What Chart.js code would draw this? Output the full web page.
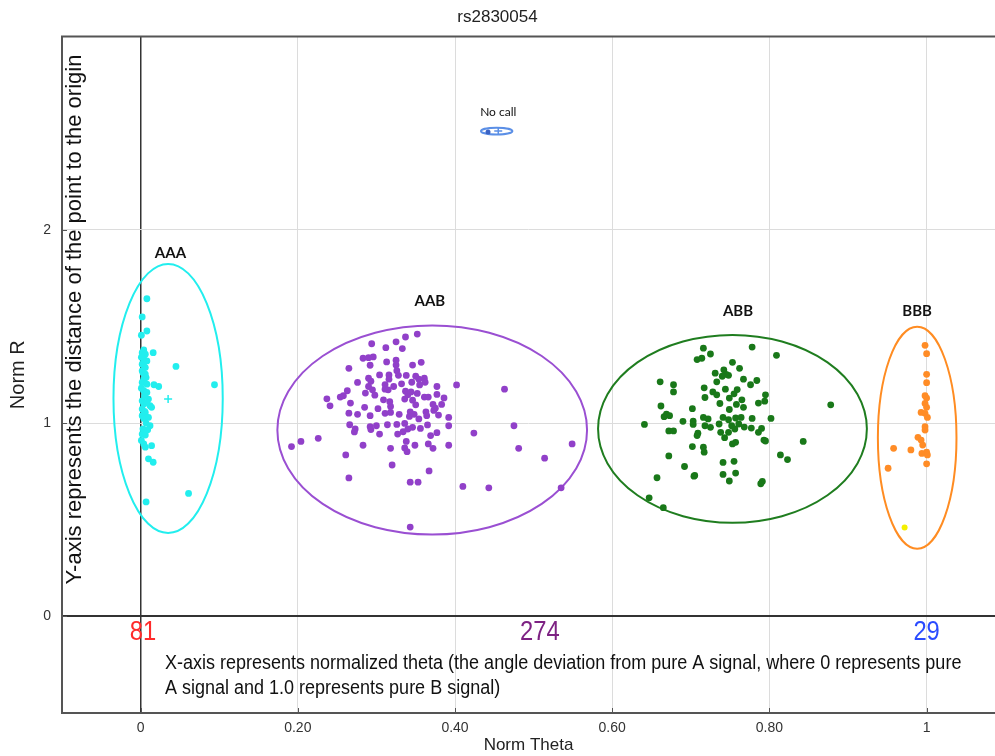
<!DOCTYPE html>
<html>
<head>
<meta charset="utf-8">
<title>rs2830054</title>
<script src="https://cdn.jsdelivr.net/npm/chart.js@4.4.1/dist/chart.umd.min.js"></script>
<style>
  body { margin: 0; background: #fff; }
  #wrap { width: 995px; height: 756px; position: relative; }
</style>
</head>
<body>
<div id="wrap"><canvas id="clusterChart"></canvas></div>
<script>
// Axis ticks
const xTickValues = [0, 0.2, 0.4, 0.6, 0.8, 1];
const xTickLabels = ['0', '0.20', '0.40', '0.60', '0.80', '1'];
const yTickValues = [0, 1, 2];
const yTickLabels = ['0', '1', '2'];

// AAA cluster (cyan)
const aaaTheta = [0.008, 0.002, 0.008, 0.001, 0.004, 0.002, 0.006, 0.016, 0.004, 0.008, 0.002, 0.006, 0.045, 0.002,
  0.006, 0.004, 0.002, 0.008, 0.017, 0.023, 0.094, 0.004, 0.008, 0.002, 0.010, 0.004, 0.012, 0.002, 0.014, 0.006,
  0.002, 0.004, 0.010, 0.012, 0.002, 0.006, 0.004, 0.014, 0.006, 0.010, 0.016, 0.061, 0.007,
  0.001, 0.004, 0.003, 0.007, 0.001, 0.005, 0.008, 0.005, 0.007, 0.003, 0.009, 0.001];
const aaaR = [1.643, 1.549, 1.476, 1.454, 1.378, 1.364, 1.356, 1.364, 1.330, 1.321, 1.304, 1.287, 1.293, 1.270,
  1.253, 1.227, 1.210, 1.201, 1.198, 1.189, 1.198, 1.167, 1.158, 1.115, 1.124, 1.098, 1.090, 1.072, 1.081, 1.055,
  1.038, 1.024, 1.029, 0.986, 0.943, 0.938, 0.892, 0.883, 0.875, 0.815, 0.797, 0.636, 0.592,
  1.340, 1.310, 1.260, 1.235, 1.180, 1.140, 1.105, 1.060, 1.000, 0.970, 0.965, 0.910];

// AAB cluster (purple)
const aabTheta = [0.352, 0.337, 0.325, 0.294, 0.312, 0.333, 0.283, 0.290, 0.296, 0.313, 0.325, 0.292, 0.325, 0.346,
  0.357, 0.265, 0.326, 0.304, 0.316, 0.328, 0.338, 0.350, 0.290, 0.293, 0.316, 0.354, 0.361, 0.362, 0.276, 0.311,
  0.322, 0.332, 0.345, 0.355, 0.377, 0.402, 0.463, 0.290, 0.295, 0.263, 0.286, 0.298, 0.311, 0.315, 0.337, 0.340,
  0.344, 0.352, 0.361, 0.366, 0.377, 0.386, 0.237, 0.254, 0.258, 0.241, 0.267, 0.309, 0.317, 0.336, 0.346, 0.350,
  0.372, 0.383, 0.375, 0.285, 0.302, 0.318, 0.329, 0.343, 0.348, 0.363, 0.364, 0.373, 0.379, 0.265, 0.276, 0.292,
  0.311, 0.318, 0.342, 0.354, 0.392, 0.266, 0.292, 0.300, 0.314, 0.326, 0.336, 0.346, 0.356, 0.365, 0.392, 0.475,
  0.273, 0.272, 0.293, 0.304, 0.327, 0.334, 0.340, 0.369, 0.377, 0.424, 0.192, 0.204, 0.226, 0.283, 0.318, 0.338,
  0.336, 0.339, 0.349, 0.366, 0.372, 0.392, 0.481, 0.549, 0.261, 0.514, 0.320, 0.367, 0.265, 0.343, 0.353, 0.410,
  0.443, 0.535, 0.343];
const aabR = [1.460, 1.445, 1.420, 1.410, 1.390, 1.385, 1.335, 1.338, 1.342, 1.316, 1.325, 1.299, 1.300, 1.300,
  1.314, 1.283, 1.271, 1.249, 1.249, 1.247, 1.246, 1.242, 1.232, 1.216, 1.227, 1.227, 1.232, 1.211, 1.210, 1.199,
  1.189, 1.203, 1.211, 1.197, 1.189, 1.197, 1.175, 1.189, 1.172, 1.167, 1.155, 1.144, 1.175, 1.172, 1.165, 1.146,
  1.161, 1.153, 1.134, 1.134, 1.148, 1.130, 1.125, 1.134, 1.141, 1.089, 1.103, 1.120, 1.110, 1.124, 1.118, 1.094,
  1.096, 1.096, 1.077, 1.081, 1.074, 1.086, 1.045, 1.058, 1.045, 1.058, 1.038, 1.065, 1.041, 1.051, 1.045, 1.038,
  1.050, 1.055, 1.034, 1.021, 1.029, 0.991, 0.981, 0.986, 0.991, 0.993, 0.998, 0.978, 0.972, 0.990, 0.986, 0.986,
  0.969, 0.954, 0.966, 0.943, 0.943, 0.955, 0.969, 0.935, 0.950, 0.948, 0.878, 0.905, 0.921, 0.885, 0.869, 0.905,
  0.871, 0.852, 0.885, 0.892, 0.869, 0.885, 0.869, 0.892, 0.835, 0.818, 0.783, 0.752, 0.716, 0.694, 0.694, 0.672,
  0.665, 0.665, 0.462];

// ABB cluster (green)
const abbTheta = [0.716, 0.778, 0.725, 0.708, 0.714, 0.809, 0.753, 0.762, 0.731, 0.742, 0.745, 0.740, 0.748, 0.661,
  0.678, 0.733, 0.767, 0.784, 0.776, 0.678, 0.717, 0.744, 0.728, 0.733, 0.759, 0.755, 0.749, 0.795, 0.794, 0.718,
  0.662, 0.702, 0.737, 0.765, 0.767, 0.758, 0.749, 0.786, 0.669, 0.673, 0.666, 0.716, 0.741, 0.722, 0.757, 0.764,
  0.778, 0.802, 0.878, 0.641, 0.690, 0.703, 0.703, 0.718, 0.725, 0.736, 0.748, 0.752, 0.761, 0.768, 0.777, 0.790,
  0.672, 0.678, 0.709, 0.708, 0.738, 0.748, 0.756, 0.786, 0.793, 0.795, 0.843, 0.743, 0.753, 0.757, 0.702, 0.716,
  0.717, 0.672, 0.814, 0.823, 0.741, 0.755, 0.692, 0.705, 0.704, 0.741, 0.757, 0.657, 0.749, 0.791, 0.789, 0.647,
  0.665];
const abbR = [1.387, 1.393, 1.357, 1.328, 1.335, 1.350, 1.314, 1.283, 1.258, 1.275, 1.252, 1.242, 1.247, 1.213,
  1.198, 1.213, 1.227, 1.220, 1.198, 1.161, 1.182, 1.175, 1.161, 1.146, 1.173, 1.151, 1.129, 1.146, 1.113, 1.132,
  1.088, 1.074, 1.101, 1.120, 1.081, 1.096, 1.070, 1.103, 1.046, 1.038, 1.033, 1.029, 1.029, 1.021, 1.026, 1.029,
  1.024, 1.024, 1.094, 0.993, 1.009, 1.010, 0.993, 0.986, 0.978, 0.995, 1.017, 0.986, 0.995, 0.979, 0.974, 0.972,
  0.959, 0.959, 0.947, 0.935, 0.952, 0.952, 0.969, 0.952, 0.912, 0.907, 0.905, 0.924, 0.892, 0.900, 0.878, 0.875,
  0.849, 0.830, 0.835, 0.811, 0.796, 0.802, 0.775, 0.729, 0.725, 0.734, 0.741, 0.717, 0.700, 0.698, 0.686, 0.613,
  0.562];

// BBB cluster (orange)
const bbbTheta = [0.998, 1.000, 1.000, 1.000, 0.998, 1.000, 0.998, 1.000, 0.993, 0.998, 1.001, 0.998, 0.998, 0.989,
  0.993, 0.995, 0.958, 0.980, 0.994, 1.000, 1.001, 1.000, 0.951];
const bbbR = [1.402, 1.359, 1.252, 1.209, 1.141, 1.129, 1.101, 1.081, 1.055, 1.050, 1.029, 0.981, 0.964, 0.926,
  0.912, 0.886, 0.869, 0.861, 0.843, 0.849, 0.835, 0.789, 0.766];

// Unassigned / no-call samples
const yellowTheta = [0.972];
const yellowR = [0.460];
const noCallTheta = [0.442];
const noCallR = [2.505];
const centroidTheta = [0.035, 0.455];
const centroidR = [1.124, 2.510];

// Cluster ellipses (centre and radii in data units)
const ellipseTheta = [0.035, 0.371, 0.753, 0.988, 0.453];
const ellipseR = [1.127, 0.964, 0.970, 0.924, 2.510];
const ellipseThetaRadius = [0.0695, 0.197, 0.171, 0.050, 0.020];
const ellipseRRadius = [0.696, 0.541, 0.486, 0.574, 0.018];
const ellipseColors = ['#22eeee', '#9a4fd2', '#1f7d1f', '#ff8c22', '#5b8fe6'];

// Cluster names and counts
const clusterNames = ['AAA', 'AAB', 'ABB', 'BBB', 'No call'];
const clusterNameTheta = [0.038, 0.368, 0.760, 0.988, 0.455];
const clusterNameR = [1.88, 1.63, 1.58, 1.58, 2.61];
const countLabels = ['81', '274', '29'];
const countTheta = [0.003, 0.508, 1.0];
const countColors = ['#ff2a2a', '#7d2283', '#2a4bff'];

function toPoints(xs, ys) {
    return xs.map((v, i) => ({ x: v, y: ys[i] }));
}

const sans = "'Liberation Sans', Arial, sans-serif";

// draw text squeezed horizontally, close to the condensed face of the original
function narrowText(ctx, text, px, py, squeeze) {
    ctx.save();
    ctx.translate(px, py);
    ctx.scale(squeeze, 1);
    ctx.fillText(text, 0, 0);
    ctx.restore();
}

// Ellipses, frame and annotation text
const overlayPlugin = {
    id: 'overlay',
    beforeDatasetsDraw(chart) {
        const { ctx, scales: { x, y } } = chart;
        ctx.save();
        ellipseTheta.forEach((t, i) => {
            const cx = x.getPixelForValue(t);
            const cy = y.getPixelForValue(ellipseR[i]);
            const rx = Math.abs(x.getPixelForValue(t + ellipseThetaRadius[i]) - cx);
            const ry = Math.abs(y.getPixelForValue(ellipseR[i] + ellipseRRadius[i]) - cy);
            ctx.beginPath();
            ctx.ellipse(cx, cy, rx, ry, 0, 0, Math.PI * 2);
            ctx.strokeStyle = ellipseColors[i];
            ctx.lineWidth = 2;
            ctx.stroke();
        });
        ctx.restore();
    },
    afterDraw(chart) {
        const { ctx, chartArea: a, scales: { x, y } } = chart;
        ctx.save();

        // frame (open on the right, the plot runs off the page) and inner tick marks
        ctx.strokeStyle = '#555';
        ctx.lineWidth = 2;
        ctx.beginPath();
        ctx.moveTo(a.right, a.top);
        ctx.lineTo(a.left, a.top);
        ctx.lineTo(a.left, a.bottom);
        ctx.lineTo(a.right, a.bottom);
        ctx.stroke();
        ctx.lineWidth = 1;
        xTickValues.forEach(v => {
            const px = Math.round(x.getPixelForValue(v)) + 0.5;
            ctx.beginPath();
            ctx.moveTo(px, a.bottom);
            ctx.lineTo(px, a.bottom - 5);
            ctx.stroke();
        });
        yTickValues.forEach(v => {
            const py = Math.round(y.getPixelForValue(v)) + 0.5;
            ctx.beginPath();
            ctx.moveTo(a.left, py);
            ctx.lineTo(a.left + 5, py);
            ctx.stroke();
        });

        // cluster names
        ctx.textAlign = 'center';
        ctx.textBaseline = 'middle';
        ctx.fillStyle = '#111';
        clusterNames.forEach((name, i) => {
            ctx.font = i < 4 ? "bold 15px Lato, 'Open Sans', sans-serif" : "12px Lato, 'Open Sans', sans-serif";
            ctx.fillText(name, x.getPixelForValue(clusterNameTheta[i]), y.getPixelForValue(clusterNameR[i]));
        });

        // genotype counts
        ctx.font = '28px ' + sans;
        countLabels.forEach((c, i) => {
            ctx.fillStyle = countColors[i];
            narrowText(ctx, c, x.getPixelForValue(countTheta[i]), y.getPixelForValue(-0.085), 0.85);
        });

        // axis notes
        ctx.fillStyle = '#111';
        ctx.textAlign = 'left';
        ctx.font = '20px ' + sans;
        narrowText(ctx, 'X-axis represents normalized theta (the angle deviation from pure A signal, where 0 represents pure',
            x.getPixelForValue(0.031), y.getPixelForValue(-0.242), 0.9);
        narrowText(ctx, 'A signal and 1.0 represents pure B signal)',
            x.getPixelForValue(0.031), y.getPixelForValue(-0.371), 0.9);

        ctx.translate(x.getPixelForValue(-0.084), y.getPixelForValue(1.535));
        ctx.rotate(-Math.PI / 2);
        ctx.textAlign = 'center';
        ctx.font = '22px ' + sans;
        ctx.fillText('Y-axis represents the distance of the point to the origin', 0, 0);
        ctx.restore();
    }
};

function gridColor(ctx) {
    return ctx.tick && ctx.tick.value === 0 ? '#333' : '#dcdcdc';
}

const ctx = document.getElementById('clusterChart').getContext('2d');
new Chart(ctx, {
    type: 'scatter',
    data: {
        datasets: [
            { label: 'AAA', data: toPoints(aaaTheta, aaaR), backgroundColor: '#22eeee', borderWidth: 0, pointRadius: 3.4 },
            { label: 'AAB', data: toPoints(aabTheta, aabR), backgroundColor: '#9140c9', borderWidth: 0, pointRadius: 3.4 },
            { label: 'ABB', data: toPoints(abbTheta, abbR), backgroundColor: '#197819', borderWidth: 0, pointRadius: 3.4 },
            { label: 'BBB', data: toPoints(bbbTheta, bbbR), backgroundColor: '#ff8c26', borderWidth: 0, pointRadius: 3.4 },
            { label: 'Other', data: toPoints(yellowTheta, yellowR), backgroundColor: '#f4f000', borderWidth: 0, pointRadius: 3 },
            { label: 'No call', data: toPoints(noCallTheta, noCallR), backgroundColor: '#3b63c4', borderWidth: 0, pointRadius: 2.5 },
            { label: 'Centroid', data: toPoints(centroidTheta, centroidR), pointStyle: 'cross', borderColor: ['#22eeee', '#5b8fe6'],
              borderWidth: 1.5, pointRadius: 4 }
        ]
    },
    options: {
        responsive: true,
        maintainAspectRatio: false,
        animation: false,
        layout: { autoPadding: false, padding: { left: 0, right: 0, top: 0, bottom: 0 } },
        plugins: {
            legend: { display: false },
            tooltip: { enabled: false },
            title: {
                display: true,
                text: 'rs2830054',
                color: '#222',
                font: { family: sans, size: 17, weight: 'normal' },
                padding: { top: 7, bottom: 9 }
            }
        },
        scales: {
            x: {
                type: 'linear',
                min: -0.1,
                max: 1.087,
                afterBuildTicks: scale => { scale.ticks = xTickValues.map(v => ({ value: v })); },
                afterFit: scale => {
                    scale.height = 43;
                    scale.paddingLeft = 0;
                    scale.paddingRight = 0;
                },
                ticks: {
                    padding: 7,
                    color: '#333',
                    font: { family: sans, size: 14 },
                    callback: (v, i) => xTickLabels[i]
                },
                grid: {
                    color: gridColor,
                    lineWidth: c => (c.tick && c.tick.value === 0 ? 1.5 : 1),
                    drawTicks: false
                },
                border: { display: false },
                title: {
                    display: true,
                    text: 'Norm Theta',
                    color: '#222',
                    font: { family: sans, size: 17 },
                    padding: { top: 0, bottom: 0 }
                }
            },
            y: {
                type: 'linear',
                min: -0.5,
                max: 3.0,
                afterBuildTicks: scale => { scale.ticks = yTickValues.map(v => ({ value: v })); },
                afterFit: scale => {
                    scale.width = 62;
                    scale.paddingTop = 0;
                    scale.paddingBottom = 0;
                },
                ticks: {
                    padding: 11,
                    color: '#333',
                    font: { family: sans, size: 14 },
                    callback: (v, i) => yTickLabels[i]
                },
                grid: {
                    color: gridColor,
                    lineWidth: c => (c.tick && c.tick.value === 0 ? 2 : 1),
                    drawTicks: false
                },
                border: { display: false },
                title: {
                    display: true,
                    text: 'Norm R',
                    color: '#222',
                    font: { family: sans, size: 20 },
                    padding: { top: 6, bottom: 0 }
                }
            }
        }
    },
    plugins: [overlayPlugin]
});
</script>
</body>
</html>
